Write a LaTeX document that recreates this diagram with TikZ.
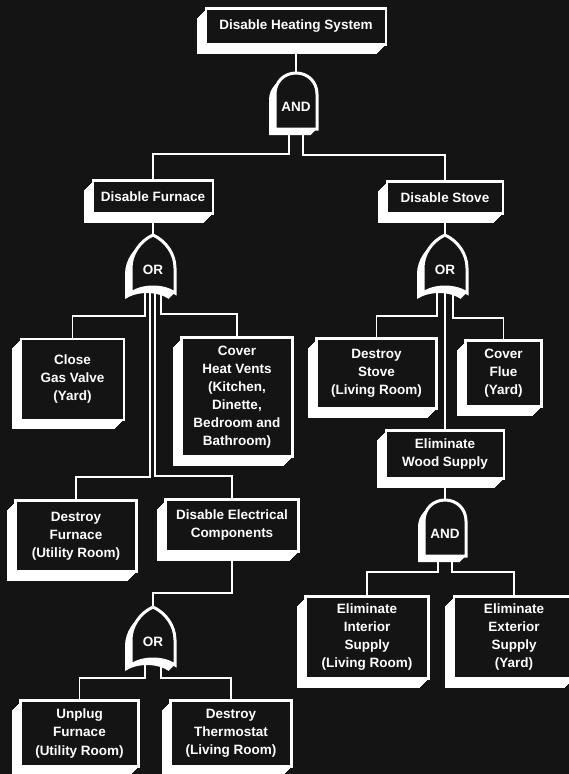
\documentclass[tikz,border=0pt]{standalone}
\usepackage{fontspec}
\setmainfont{Liberation Sans}
\usetikzlibrary{shadows}
\definecolor{bgdark}{RGB}{20,20,20}

\tikzset{
  ext/.style={general shadow={fill=white, shadow xshift=-#1pt, shadow yshift=-#1pt}},
  event/.style={draw=white, line width=2.5pt, fill=bgdark, text=white, inner sep=0pt,
    font=\fontsize{13.5}{18}\selectfont\bfseries, align=center,
    ext=1, ext=2, ext=3, ext=4, ext=5, ext=6, ext=7, ext=8, ext=9},
  wire/.style={draw=white, line width=1.8pt},
  gatebody/.style={draw=white, line width=3pt, fill=bgdark},
  gatetext/.style={text=white, inner sep=0pt, font=\fontsize{13.5}{18}\selectfont\bfseries},
  andshape/.style={insert path={(-21,22) -- (-21,-13) .. controls (-21,-25) and (-12,-34) .. (0,-34)
    .. controls (12,-34) and (21,-25) .. (21,-13) -- (21,22) -- cycle}},
  orshape/.style={insert path={(0,-35) .. controls (13,-29) and (22,-16) .. (22,-2) -- (22,23)
    .. controls (10,15) and (-10,15) .. (-22,23) -- (-22,-2) .. controls (-22,-16) and (-13,-29) .. (0,-35) -- cycle}},
  pics/andgate/.style={code={
    \foreach \k in {1,...,6}
      \fill[white, shift={(-\k,\k)}, andshape];
    \draw[gatebody, andshape];
    \node[gatetext] (-c) {AND};
    \coordinate (-top) at (0,-34);
    \coordinate (-l) at (-7,22);
    \coordinate (-r) at (7,22);
  }},
  pics/orgate/.style={code={
    \foreach \k in {1,...,6}
      \fill[white, shift={(-\k,\k)}, orshape];
    \draw[gatebody, orshape];
    \node[gatetext] (-c) {OR};
    \coordinate (-top) at (0,-35);
    \coordinate (-l) at (-8,20);
    \coordinate (-r) at (8,20);
    \coordinate (-il) at (-3,18);
    \coordinate (-ir) at (2,18);
    \coordinate (-m) at (0,18);
  }}
}

\begin{document}
\begin{tikzpicture}[x=1pt, y=-1pt]
  \fill[bgdark] (0,0) rectangle (569,774);
  \useasboundingbox (0,0) rectangle (569,774);

  % events
  \foreach \nm/\pos/\bw/\bh/\txt in
    {top/{296,26.5}/180/36/{Disable Heating System},
     furn/{153,197}/120/33/{Disable Furnace},
     stove/{445,197.5}/116/32/{Disable Stove},
     gas/{72.5,379.5}/103/81/{Close\\Gas Valve\\(Yard)},
     vents/{237,397}/111/119/{Cover\\Heat Vents\\(Kitchen,\\Dinette,\\Bedroom and\\Bathroom)},
     dfurn/{76,536}/121/71/{Destroy\\Furnace\\(Utility Room)},
     elec/{232,525.5}/133/52/{Disable Electrical\\Components},
     unplug/{79.5,733.5}/118/66/{Unplug\\Furnace\\(Utility Room)},
     thermo/{231,733.5}/121/66/{Destroy\\Thermostat\\(Living Room)},
     dstove/{376.5,373.5}/120/70/{Destroy\\Stove\\(Living Room)},
     flue/{503.5,373.5}/76/66/{Cover\\Flue\\(Yard)},
     wood/{445,454.5}/118/48/{Eliminate\\Wood Supply},
     inner/{367,637.5}/123/82/{Eliminate\\Interior\\Supply\\(Living Room)},
     outer/{514,637.5}/120/82/{Eliminate\\Exterior\\Supply\\(Yard)}}
    \node[event, minimum width=\bw pt, minimum height=\bh pt] (\nm) at (\pos) {\txt};

  % gates
  \pic (g0) at (296,107) {andgate};
  \pic (g1) at (153,270) {orgate};
  \pic (g2) at (445,270) {orgate};
  \pic (g3) at (153,642) {orgate};
  \pic (g4) at (445,534) {andgate};

  % connectors
  \draw[wire] (top.south) -- (g0-top);
  \draw[wire] (g0-l) |- ([yshift=25pt]furn.north) -- (furn.north);
  \draw[wire] (g0-r) |- ([yshift=25pt]stove.north) -- (stove.north);
  \draw[wire] (furn.south) -- (g1-top);
  \draw[wire] (stove.south) -- (g2-top);
  \draw[wire] (g1-l) |- ([yshift=22pt]gas.north) -- (gas.north);
  \draw[wire] (g1-r) |- ([yshift=22pt]vents.north) -- (vents.north);
  \draw[wire] (g1-il) |- ([yshift=22pt]dfurn.north) -- (dfurn.north);
  \draw[wire] (g1-ir) |- ([yshift=22pt]elec.north) -- (elec.north);
  \draw[wire] (elec.south) |- ([yshift=14pt]g3-top) -- (g3-top);
  \draw[wire] (g3-l) |- ([yshift=21pt]unplug.north) -- (unplug.north);
  \draw[wire] (g3-r) |- ([yshift=21pt]thermo.north) -- (thermo.north);
  \draw[wire] (g2-l) |- ([yshift=21pt]dstove.north) -- (dstove.north);
  \draw[wire] (g2-r) |- ([yshift=21pt]flue.north) -- (flue.north);
  \draw[wire] (g2-m) -- (wood.north);
  \draw[wire] (wood.south) -- (g4-top);
  \draw[wire] (g4-l) |- ([yshift=23pt]inner.north) -- (inner.north);
  \draw[wire] (g4-r) |- ([yshift=23pt]outer.north) -- (outer.north);
\end{tikzpicture}
\end{document}
